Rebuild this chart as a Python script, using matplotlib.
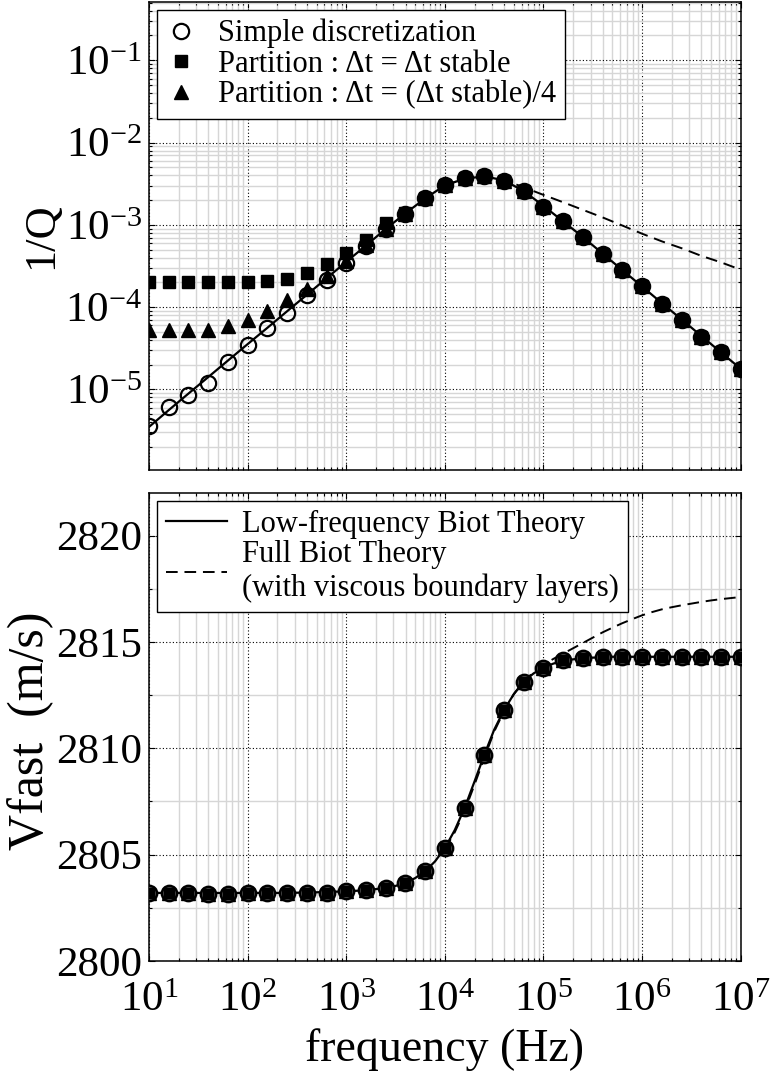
import numpy as np
import matplotlib.pyplot as plt
from matplotlib.ticker import LogLocator, MultipleLocator, NullFormatter

plt.rcParams['font.family'] = 'Liberation Serif'
plt.rcParams['mathtext.fontset'] = 'custom'
plt.rcParams['mathtext.rm'] = 'Liberation Serif'
plt.rcParams['mathtext.it'] = 'Liberation Serif:italic'
plt.rcParams['axes.unicode_minus'] = False

######################################
# DATA
######################################

# simulation frequencies: 5 points per decade, 10 Hz .. 10 MHz
freq_sim = 10 ** np.linspace(1, 7, 31)

# 1/Q, simple discretization (open circles)
invq_simple = [3.6e-6, 6.05e-6, 8.5e-6, 1.2e-5, 2.16e-5, 3.44e-5, 5.5e-5, 8.5e-5,
               1.39e-4, 2.15e-4, 3.43e-4, 5.6e-4, 8.95e-4, 1.36e-3, 2.12e-3, 3.05e-3,
               3.68e-3, 3.89e-3, 3.44e-3, 2.56e-3, 1.67e-3, 1.11e-3, 7.1e-4, 4.45e-4,
               2.79e-4, 1.79e-4, 1.10e-4, 6.9e-5, 4.35e-5, 2.86e-5, 1.75e-5]
# 1/Q, partition dt = dt stable (squares)
invq_part1 = [2.0e-4, 2.0e-4, 2.0e-4, 2.0e-4, 2.0e-4, 2.0e-4, 2.06e-4, 2.19e-4,
              2.62e-4, 3.33e-4, 4.58e-4, 6.58e-4, 1.05e-3, 1.38e-3, 2.12e-3, 3.05e-3,
              3.68e-3, 3.89e-3, 3.44e-3, 2.56e-3, 1.67e-3, 1.11e-3, 7.1e-4, 4.45e-4,
              2.79e-4, 1.79e-4, 1.10e-4, 6.9e-5, 4.35e-5, 2.86e-5, 1.75e-5]
# 1/Q, partition dt = dt stable / 4 (triangles)
invq_part4 = [5.2e-5, 5.2e-5, 5.2e-5, 5.2e-5, 5.9e-5, 7.0e-5, 9.0e-5, 1.21e-4,
              1.67e-4, 2.4e-4, 3.6e-4, 5.7e-4, 9.0e-4, 1.36e-3, 2.12e-3, 3.05e-3,
              3.68e-3, 3.89e-3, 3.44e-3, 2.56e-3, 1.67e-3, 1.11e-3, 7.1e-4, 4.45e-4,
              2.79e-4, 1.79e-4, 1.10e-4, 6.9e-5, 4.35e-5, 2.86e-5, 1.75e-5]

# 1/Q theory curves
invq_lowfreq = [3.5e-6, 5.6e-6, 8.9e-6, 1.41e-5, 2.24e-5, 3.55e-5, 5.6e-5, 8.9e-5,
                1.41e-4, 2.24e-4, 3.55e-4, 5.6e-4, 8.9e-4, 1.38e-3, 2.09e-3, 3.02e-3,
                3.63e-3, 3.89e-3, 3.47e-3, 2.57e-3, 1.70e-3, 1.10e-3, 7.1e-4, 4.47e-4,
                2.82e-4, 1.78e-4, 1.12e-4, 7.1e-5, 4.47e-5, 2.82e-5, 1.78e-5]
freq_full_q = 10 ** np.linspace(4, 7, 16)
invq_full = [3.02e-3, 3.63e-3, 3.89e-3, 3.51e-3, 2.86e-3, 2.31e-3, 1.88e-3, 1.52e-3,
             1.23e-3, 9.8e-4, 7.8e-4, 6.3e-4, 5.2e-4, 4.2e-4, 3.5e-4, 2.85e-4]

# fast wave velocity (m/s), simulations
vfast_sim = [2803.2, 2803.2, 2803.2, 2803.15, 2803.15, 2803.2, 2803.2, 2803.2,
             2803.2, 2803.2, 2803.27, 2803.33, 2803.44, 2803.67, 2804.22, 2805.31,
             2807.19, 2809.69, 2811.80, 2813.13, 2813.78, 2814.14, 2814.25, 2814.3,
             2814.3, 2814.3, 2814.3, 2814.3, 2814.3, 2814.3, 2814.3]

# velocity theory curves (10 points per decade)
freq_theory = 10 ** np.linspace(1, 7, 61)
vfast_lowfreq = [2803.2] * 15 + [2803.21, 2803.22, 2803.23, 2803.25, 2803.26,
                 2803.27, 2803.30, 2803.33, 2803.38, 2803.44, 2803.53, 2803.67, 2803.90,
                 2804.22, 2804.68, 2805.31, 2806.15, 2807.19, 2808.43, 2809.69, 2810.87,
                 2811.80, 2812.55, 2813.13, 2813.52, 2813.78, 2813.98, 2814.10, 2814.18,
                 2814.23, 2814.26, 2814.28] + [2814.3] * 14
freq_full_v = 10 ** np.linspace(4, 7, 31)
vfast_full = [2805.25, 2806.05, 2807.05, 2808.28, 2809.55, 2810.78, 2811.75, 2812.55,
              2813.15, 2813.58, 2813.92, 2814.20, 2814.45, 2814.70, 2814.95, 2815.20,
              2815.45, 2815.67, 2815.88, 2816.07, 2816.25, 2816.40, 2816.53, 2816.63,
              2816.72, 2816.80, 2816.88, 2816.95, 2817.01, 2817.06, 2817.11]

######################################
# STYLE
######################################

def style_axes(ax):
	ax.set_xscale('log')
	ax.set_xlim(10, 1e7)
	ax.set_axisbelow(True)
	ax.xaxis.set_major_locator(LogLocator(base=10, numticks=20))
	ax.xaxis.set_minor_locator(LogLocator(base=10, subs=np.arange(2, 10), numticks=20))
	ax.xaxis.set_minor_formatter(NullFormatter())
	ax.grid(which='minor', color='#d6d6d6', ls='-', lw=1.0)
	ax.grid(which='major', color='k', ls=(0, (1, 2)), lw=0.8)
	ax.tick_params(which='both', direction='in', top=True, right=True,
				   labelsize=31, pad=5, width=0.8)
	ax.tick_params(axis='x', pad=15)
	ax.tick_params(which='major', length=4)
	ax.tick_params(which='minor', length=2.5)
	for s in ax.spines.values():
		s.set_linewidth(1.1)

ms_circle = dict(marker='o', ls='none', ms=11, mfc='none', mec='k', mew=1.6)
ms_square = dict(marker='s', ls='none', ms=8, color='k')
ms_tri = dict(marker='^', ls='none', ms=9.5, color='k')
dash = (0, (6, 3.5))

fig = plt.figure(figsize=(7.74, 10.71), dpi=100)

######################################
# TOP : 1/Q
######################################

ax1 = fig.add_axes([0.1925, 0.5612, 0.7645, 0.4369])
style_axes(ax1)
ax1.plot(freq_theory[::2], invq_lowfreq, color='k', lw=1.6, zorder=2)
ax1.plot(freq_full_q, invq_full, color='k', lw=1.4, ls=dash, zorder=2)
ax1.plot(freq_sim, invq_part1, label='Partition : \u0394t = \u0394t stable', zorder=3, **ms_square)
ax1.plot(freq_sim, invq_part4, label='Partition : \u0394t = (\u0394t stable)/4', zorder=3, **ms_tri)
ax1.plot(freq_sim, invq_simple, label='Simple discretization', zorder=4, **ms_circle)
ax1.set_yscale('log')
ax1.set_ylim(1.05e-6, 0.51)
ax1.yaxis.set_major_locator(LogLocator(base=10, numticks=20))
ax1.yaxis.set_minor_locator(LogLocator(base=10, subs=np.arange(2, 10), numticks=20))
ax1.yaxis.set_minor_formatter(NullFormatter())
ax1.tick_params(axis='x', labelbottom=False)

h, l = ax1.get_legend_handles_labels()
leg1 = ax1.legend([h[2], h[0], h[1]], [l[2], l[0], l[1]], loc='upper left',
				  fontsize=22, frameon=True, fancybox=False, framealpha=1,
				  edgecolor='k', handlelength=1.0, handletextpad=0.7,
				  labelspacing=0.05, borderpad=0.3, borderaxespad=0.25)
leg1.get_frame().set_linewidth(1.0)

######################################
# BOTTOM : Vfast
######################################

ax2 = fig.add_axes([0.1925, 0.1027, 0.7645, 0.4370])
style_axes(ax2)
ax2.plot(freq_theory, vfast_lowfreq, color='k', lw=1.6, zorder=2,
		 label='Low-frequency Biot Theory')
ax2.plot(freq_full_v, vfast_full, color='k', lw=1.4, ls=dash, zorder=2,
		 label='Full Biot Theory\n(with viscous boundary layers)')
# the three simulations overlap here
ax2.plot(freq_sim, vfast_sim, zorder=3, **ms_tri)
ax2.plot(freq_sim, vfast_sim, zorder=4, marker='o', ls='none', ms=11,
		 mfc='#5a5a5a', mec='k', mew=1.8)
ax2.plot(freq_sim, vfast_sim, zorder=5, marker='s', ls='none', ms=6.5, color='k')
ax2.set_ylim(2800, 2822)
ax2.yaxis.set_major_locator(MultipleLocator(5))
ax2.yaxis.set_minor_locator(MultipleLocator(2.5))
ax2.set_xlabel('frequency (Hz)', fontsize=33, labelpad=6)

leg2 = ax2.legend(loc='upper left', fontsize=22, frameon=True, fancybox=False,
				  framealpha=1, edgecolor='k', handlelength=2.0, handletextpad=0.5,
				  labelspacing=0.05, borderpad=0.3, borderaxespad=0.25)
leg2.get_frame().set_linewidth(1.0)

fig.text(0.053, 0.78, '1/Q', rotation=90, ha='center', va='center', fontsize=32)
fig.text(0.040, 0.318, 'Vfast  (m/s)', rotation=90, ha='center', va='center', fontsize=36)

fig.savefig('out.png', dpi=100)
